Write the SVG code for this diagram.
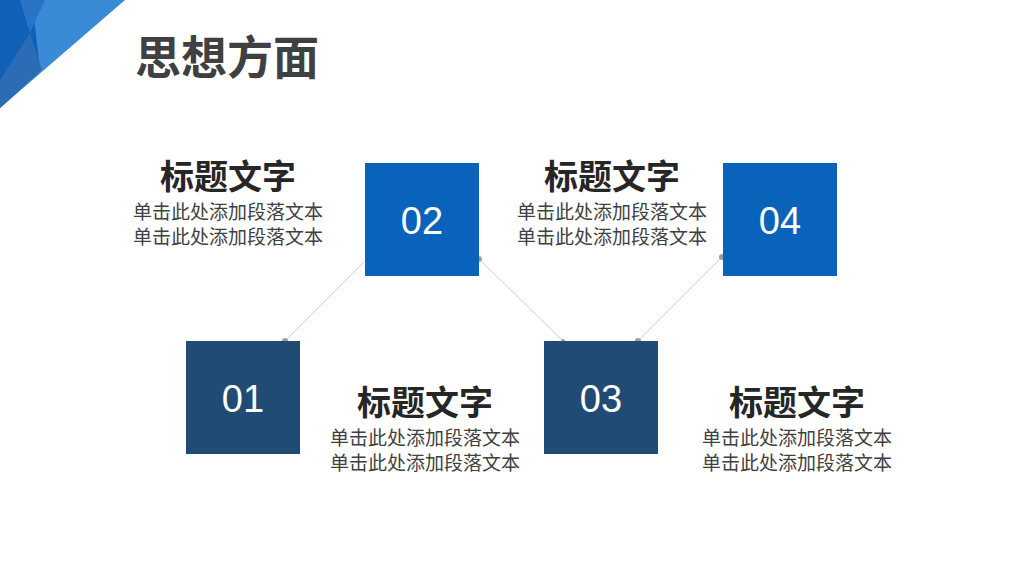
<svg xmlns="http://www.w3.org/2000/svg" width="1024" height="576" viewBox="0 0 1024 576">
<style>
.t{font-family:"Liberation Sans","Noto Sans CJK SC",sans-serif;}
.h{font-size:34px;font-weight:bold;fill:#262626;text-anchor:middle;}
.b{font-size:19px;fill:#404040;text-anchor:middle;}
.n{font-size:38px;fill:#fff;text-anchor:middle;}
.c{stroke:#cfcfcf;stroke-width:1;fill:none;}
.d{fill:#9a9fa3;}
</style>
<rect width="1024" height="576" fill="#fff"/>
<g id="corner">
<polygon points="0,0 125,0 0,108" fill="#3a8ad6"/>
<polygon points="0,0 32,0 40,70 0,108" fill="#1160b8"/>
<polygon points="20,0 45,0 30,33" fill="#2a74c8"/>
<polygon points="30,33 42,70 0,108 0,80" fill="#2b6cb4"/>
</g>
<text class="t" x="135" y="74" font-size="46" font-weight="bold" fill="#404040">思想方面</text>
<g id="connectors">
<line class="c" x1="285" y1="341" x2="365" y2="261"/>
<line class="c" x1="479" y1="259" x2="563" y2="341"/>
<line class="c" x1="638" y1="341" x2="722" y2="257"/>
<circle class="d" cx="285" cy="341" r="3"/>
<circle class="d" cx="479" cy="259" r="3"/>
<circle class="d" cx="563" cy="341" r="2"/>
<circle class="d" cx="638" cy="341" r="3"/>
<circle class="d" cx="722" cy="257" r="3"/>
</g>
<g id="n01"><rect x="186" y="341" width="114" height="113" fill="#1f4b74"/><text class="t n" x="243" y="412">01</text></g>
<g id="n02"><rect x="365" y="163" width="114" height="113" fill="#0a63bb"/><text class="t n" x="422" y="234">02</text></g>
<g id="n03"><rect x="544" y="341" width="114" height="113" fill="#1f4b74"/><text class="t n" x="601" y="412">03</text></g>
<g id="n04"><rect x="723" y="163" width="114" height="113" fill="#0a63bb"/><text class="t n" x="780" y="234">04</text></g>
<g id="txt1"><text class="t h" x="228" y="189">标题文字</text><text class="t b" x="228" y="219">单击此处添加段落文本</text><text class="t b" x="228" y="244">单击此处添加段落文本</text></g>
<g id="txt2"><text class="t h" x="612" y="189">标题文字</text><text class="t b" x="612" y="219">单击此处添加段落文本</text><text class="t b" x="612" y="244">单击此处添加段落文本</text></g>
<g id="txt3"><text class="t h" x="425" y="415">标题文字</text><text class="t b" x="425" y="445">单击此处添加段落文本</text><text class="t b" x="425" y="470">单击此处添加段落文本</text></g>
<g id="txt4"><text class="t h" x="797" y="415">标题文字</text><text class="t b" x="797" y="445">单击此处添加段落文本</text><text class="t b" x="797" y="470">单击此处添加段落文本</text></g>
</svg>
